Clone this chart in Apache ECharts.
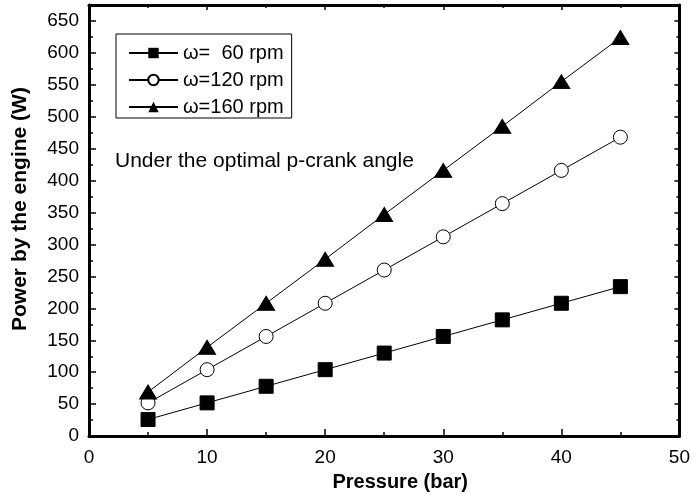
<!DOCTYPE html>
<html>
<head>
<meta charset="utf-8">
<script src="https://cdn.jsdelivr.net/npm/echarts@6/dist/echarts.min.js"></script>
<style>
  html, body { margin: 0; padding: 0; background: #fff; overflow: hidden; }
  #main { width: 693px; height: 497px; }
</style>
</head>
<body>
<div id="main"></div>
<script>
// data
var pressure = [5, 10, 15, 20, 25, 30, 35, 40, 45];
var rpm60 = [26, 52, 78, 104, 130, 156, 182, 208, 234];
var rpm120 = [52, 104, 156, 208, 260, 312, 364, 416, 468];
var rpm160 = [69, 139, 208, 277, 347, 416, 485, 555, 624];
var seriesNames = ['ω=  60 rpm', 'ω=120 rpm', 'ω=160 rpm'];

function pairs(xs, ys) {
    return xs.map(function (x, i) { return [x, ys[i]]; });
}

var myChart = echarts.init(document.getElementById('main'));

var font = 'Liberation Sans, Arial, sans-serif';

var tickStyle = { color: '#000', width: 1.5 };

var option = {
    backgroundColor: '#fff',
    animation: false,
    grid: { left: 89, width: 591, top: 5, height: 436 },
    legend: {
        data: seriesNames,
        orient: 'vertical',
        left: 116,
        top: 34,
        itemWidth: 49,
        itemHeight: 13,
        itemGap: 7,
        borderColor: '#000',
        borderWidth: 1,
        padding: [9, 8, 1, 12],
        textStyle: { fontFamily: font, fontSize: 20, color: '#000' }
    },
    graphic: [{
        type: 'text',
        left: 115,
        top: 151,
        style: { text: 'Under the optimal p-crank angle', font: '21px ' + font, fill: '#000' }
    }],
    xAxis: [{
        type: 'value',
        min: 0, max: 50, interval: 10,
        name: 'Pressure (bar)',
        nameLocation: 'middle',
        nameGap: 32,
        nameTextStyle: { fontFamily: font, fontSize: 20, fontWeight: 'bold', color: '#000', padding: [0, 0, 0, 32] },
        axisLine: { onZero: false, lineStyle: { color: '#000', width: 3 } },
        axisTick: { inside: true, length: 7, lineStyle: tickStyle },
        minorTick: { show: true, splitNumber: 2, length: 4, lineStyle: tickStyle },
        axisLabel: { fontFamily: font, fontSize: 19, color: '#000', margin: 12 },
        splitLine: { show: false }
    }, {
        type: 'value',
        position: 'top',
        min: 0, max: 50, interval: 10,
        axisLine: { show: true, onZero: false, lineStyle: { color: '#000', width: 3 } },
        axisTick: { inside: true, length: 5, lineStyle: tickStyle },
        minorTick: { show: true, splitNumber: 2, length: 3, lineStyle: tickStyle },
        axisLabel: { show: false },
        splitLine: { show: false }
    }],
    yAxis: [{
        type: 'value',
        min: 0, max: 675, interval: 50,
        name: 'Power by the engine (W)',
        nameLocation: 'middle',
        nameGap: 58,
        nameTextStyle: { fontFamily: font, fontSize: 21, fontWeight: 'bold', color: '#000', padding: [0, 0, 0, 23] },
        axisLine: { onZero: false, lineStyle: { color: '#000', width: 3 } },
        axisTick: { inside: true, length: 7, lineStyle: tickStyle },
        minorTick: { show: true, splitNumber: 2, length: 4, lineStyle: tickStyle },
        axisLabel: {
            fontFamily: font, fontSize: 19, color: '#000', margin: 10,
            formatter: function (v) { return v % 50 === 0 && v <= 650 ? v : ''; }
        },
        splitLine: { show: false }
    }, {
        type: 'value',
        position: 'right',
        min: 0, max: 675, interval: 50,
        axisLine: { show: true, onZero: false, lineStyle: { color: '#000', width: 3 } },
        axisTick: { inside: true, length: 5, lineStyle: tickStyle },
        minorTick: { show: true, splitNumber: 2, length: 3, lineStyle: tickStyle },
        axisLabel: { show: false },
        splitLine: { show: false }
    }],
    series: [{
        name: seriesNames[0],
        type: 'line',
        data: pairs(pressure, rpm60),
        symbol: 'rect',
        symbolSize: 14,
        lineStyle: { color: '#000', width: 1 },
        itemStyle: { color: '#000', borderColor: '#000' }
    }, {
        name: seriesNames[1],
        type: 'line',
        data: pairs(pressure, rpm120),
        symbol: 'circle',
        symbolSize: 14,
        lineStyle: { color: '#000', width: 1 },
        itemStyle: { color: '#fff', borderColor: '#000', borderWidth: 1 }
    }, {
        name: seriesNames[2],
        type: 'line',
        data: pairs(pressure, rpm160),
        symbol: 'triangle',
        symbolSize: [17, 14],
        lineStyle: { color: '#000', width: 1 },
        itemStyle: { color: '#000', borderColor: '#000' }
    }]
};

myChart.setOption(option);
</script>
</body>
</html>
